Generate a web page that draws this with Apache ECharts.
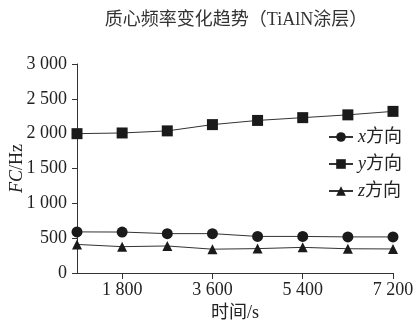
<!DOCTYPE html>
<html>
<head>
<meta charset="utf-8">
<script src="https://cdn.jsdelivr.net/npm/echarts@6/dist/echarts.min.js"></script>
<style>
  html, body { margin: 0; padding: 0; background: #fff; }
  #chart { width: 417px; height: 327px; }
</style>
</head>
<body>
<div id="chart"></div>
<script>
// Sampling times (s) and centroid frequency (Hz) per direction
const times = [900, 1800, 2700, 3600, 4500, 5400, 6300, 7200];
const xDir = [590, 588, 565, 565, 525, 525, 518, 518];
const yDir = [2000, 2010, 2040, 2130, 2190, 2230, 2270, 2320];
const zDir = [410, 378, 388, 342, 350, 368, 348, 345];
const xTicks = [1800, 3600, 5400, 7200];
const seriesNames = ['x', 'y', 'z'];

const serif = '"Liberation Serif", "Times New Roman", "Noto Sans CJK SC", serif';
const ink = '#222';

function spaced(v) {
  return String(v).replace(/\B(?=(\d{3})+(?!\d))/g, ' ');
}

function pairs(vals) {
  return times.map((t, i) => [t, vals[i]]);
}

const symbols = ['circle', 'rect', 'triangle'];
const sizes = [11, 11, 10];
const values = [xDir, yDir, zDir];

const chart = echarts.init(document.getElementById('chart'), null, { renderer: 'canvas' });
chart.setOption({
  animation: false,
  backgroundColor: '#fff',
  title: {
    text: '质心频率变化趋势（TiAlN涂层）',
    left: 231,
    textAlign: 'center',
    top: 6,
    textStyle: { fontFamily: serif, fontSize: 18, fontWeight: 'normal', color: '#333' }
  },
  grid: { left: 77, right: 24, top: 64, bottom: 54, containLabel: false, outerBoundsMode: 'none' },
  legend: {
    orient: 'vertical',
    left: 323,
    top: 123,
    itemWidth: 24,
    itemHeight: 12,
    itemGap: 9,
    data: seriesNames,
    formatter: n => '{i|' + n + '}{n|方向}',
    textStyle: {
      color: ink,
      rich: {
        i: { fontFamily: serif, fontStyle: 'italic', fontSize: 18, color: ink },
        n: { fontFamily: serif, fontSize: 18, color: ink }
      }
    }
  },
  xAxis: {
    type: 'value',
    min: 900,
    max: 7200,
    name: '时间/s',
    nameLocation: 'middle',
    nameGap: 31,
    nameMoveOverlap: false,
    nameTextStyle: { fontFamily: serif, fontSize: 18, color: ink },
    splitLine: { show: false },
    axisLine: { lineStyle: { color: '#333', width: 1 } },
    axisTick: { show: true, length: 6, customValues: xTicks, lineStyle: { color: '#333' } },
    axisLabel: {
      customValues: xTicks,
      formatter: v => spaced(v),
      fontFamily: serif, fontSize: 18, color: ink, margin: 8
    }
  },
  yAxis: {
    type: 'value',
    min: 0,
    max: 3000,
    interval: 500,
    name: '{i|FC}{n|/Hz}',
    nameLocation: 'middle',
    nameGap: 51,
    nameMoveOverlap: false,
    nameRotate: 90,
    nameTextStyle: {
      rich: {
        i: { fontFamily: serif, fontStyle: 'italic', fontSize: 18, color: ink },
        n: { fontFamily: serif, fontSize: 18, color: ink }
      }
    },
    splitLine: { show: false },
    axisLine: { show: true, lineStyle: { color: '#333', width: 1 } },
    axisTick: { show: true, length: 5, lineStyle: { color: '#333' } },
    axisLabel: {
      formatter: v => spaced(v),
      fontFamily: serif, fontSize: 18, color: ink, margin: 10
    }
  },
  series: seriesNames.map((n, k) => ({
    name: n,
    type: 'line',
    data: pairs(values[k]),
    symbol: symbols[k],
    symbolSize: sizes[k],
    itemStyle: { color: '#1a1a1a' },
    lineStyle: { color: '#333', width: 1 }
  }))
});
</script>
</body>
</html>
